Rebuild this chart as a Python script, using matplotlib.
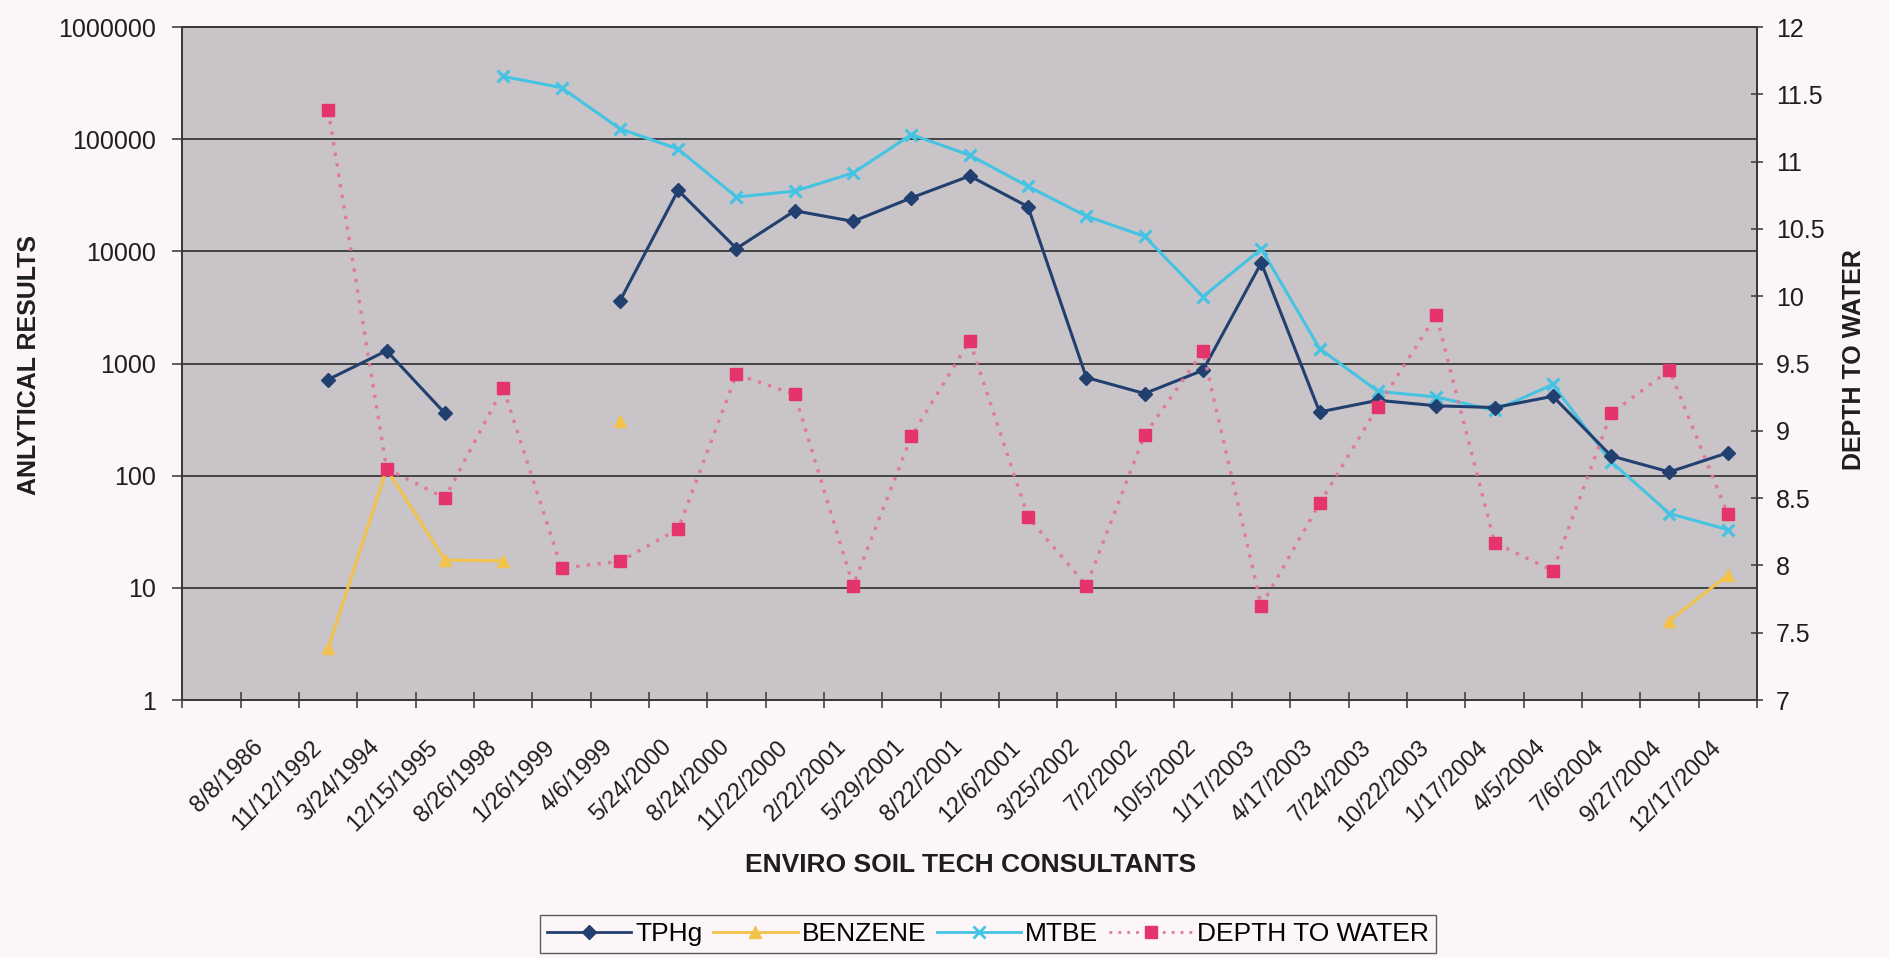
import matplotlib
matplotlib.use("Agg")
import matplotlib.pyplot as plt
import numpy as np
from matplotlib.lines import Line2D
from matplotlib.ticker import FixedLocator, NullLocator
from matplotlib.transforms import ScaledTranslation

nan = np.nan

DATES = [
    "", "8/8/1986", "11/12/1992", "3/24/1994", "12/15/1995", "8/26/1998",
    "1/26/1999", "4/6/1999", "5/24/2000", "8/24/2000", "11/22/2000",
    "2/22/2001", "5/29/2001", "8/22/2001", "12/6/2001", "3/25/2002",
    "7/2/2002", "10/5/2002", "1/17/2003", "4/17/2003", "7/24/2003",
    "10/22/2003", "1/17/2004", "4/5/2004", "7/6/2004", "9/27/2004",
    "12/17/2004",
]

TPHG = [
    nan, nan, 720, 1300, 360, nan, nan, 3600, 35000, 10600, 23000,
    18500, 30000, 47000, 25000, 750, 540, 870, 7900, 370, 470,
    420, 405, 510, 150, 108, 160,
]

BENZENE = [
    nan, nan, 2.9, 115, 17.7, 17.4, nan, 308, nan, nan, nan,
    nan, nan, nan, nan, nan, nan, nan, nan, nan, nan,
    nan, nan, nan, nan, 5.1, 13,
]

MTBE = [
    nan, nan, nan, nan, nan, 363000, 288000, 124000, 81600, 30500, 34400,
    50000, 110000, 72000, 38000, 20600, 13600, 3950, 10500, 1360, 565,
    503, 382, 650, 133, 46, 33,
]

DEPTH = [
    nan, nan, 11.38, 8.72, 8.50, 9.32, 7.98, 8.03, 8.27, 9.42, 9.27,
    7.85, 8.96, 9.67, 8.36, 7.85, 8.97, 9.59, 7.70, 8.46, 9.18,
    9.86, 8.17, 7.96, 9.13, 9.45, 8.38,
]

LEFT_TICKS = [1, 10, 100, 1000, 10000, 100000, 1000000]
RIGHT_TICKS = [7, 7.5, 8, 8.5, 9, 9.5, 10, 10.5, 11, 11.5, 12]

C_TPHG = "#22406f"
C_BENZ = "#f2c24c"
C_MTBE = "#45c3e3"
C_DEPTH = "#e5336b"
C_DEPTH_LINE = "#e07a98"
TXT = "#1e1e1e"
BG = "#fcf6f8"


def main() -> None:
    plt.rcParams["font.family"] = ["Liberation Sans", "DejaVu Sans"]

    fig = plt.figure(figsize=(18.89, 9.58), dpi=100, facecolor=BG)
    ax = fig.add_axes([0.0966, 0.2693, 0.8335, 0.7025])
    ax.set_facecolor("#c8c4c7")
    x = np.arange(len(DATES))

    ax.plot(x, TPHG, color=C_TPHG, lw=2.2, marker="D", ms=7.5, zorder=4)
    ax.plot(x, BENZENE, color=C_BENZ, lw=2.2, marker="^", ms=8, zorder=3)
    ax.plot(x, MTBE, color=C_MTBE, lw=2.2, marker="x", ms=9, mew=2.2, zorder=3)

    ax.set_yscale("log")
    ax.set_ylim(1, 1000000)
    ax.set_xlim(-0.5, len(DATES) - 0.5)
    ax.yaxis.set_major_locator(FixedLocator(LEFT_TICKS))
    ax.yaxis.set_minor_locator(NullLocator())
    ax.set_yticklabels([str(v) for v in LEFT_TICKS])
    ax.grid(axis="y", which="major", color="#3a3a3a", lw=1.3)
    ax.set_axisbelow(True)

    # date labels sit under each category, ticks mark the category edges
    ax.set_xticks(x)
    ax.set_xticklabels(DATES, rotation=45, ha="right", va="top",
                       rotation_mode="anchor", fontsize=17, color=TXT)
    ax.set_xticks(np.arange(len(DATES) + 1) - 0.5, minor=True)
    ax.tick_params(axis="x", which="major", length=0, pad=26)
    ax.tick_params(axis="x", which="minor", direction="inout", length=12, width=1.2, color="#444")
    ax.tick_params(axis="y", direction="out", length=7, width=1.2, color="#444",
                   labelsize=18, labelcolor=TXT, pad=12)

    ax2 = ax.twinx()
    ax2.plot(x, DEPTH, color=C_DEPTH_LINE, lw=2.4, ls=(0, (1, 2.2)), zorder=2)
    ax2.plot(x, DEPTH, ls="none", marker="s", ms=9, color=C_DEPTH, zorder=5)
    ax2.set_ylim(7, 12)
    ax2.set_yticks(RIGHT_TICKS)
    ax2.set_yticklabels([f"{v:g}" for v in RIGHT_TICKS])
    ax2.tick_params(axis="y", direction="inout", length=9, width=1.2, color="#444",
                    labelsize=18, labelcolor=TXT, pad=9)

    # nudge the rotated date labels left (after tick_params, which resets transforms)
    shift = ScaledTranslation(-0.18, 0, fig.dpi_scale_trans)
    for lab in ax.get_xticklabels():
        lab.set_transform(lab.get_transform() + shift)

    for a in (ax, ax2):
        for s in a.spines.values():
            s.set_color("#3a3a3a")
            s.set_linewidth(1.4)

    fig.text(29 / 1889, 1 - 365 / 958, "ANLYTICAL RESULTS", rotation=90, ha="center",
             va="center", fontsize=18, fontweight="bold", color=TXT)
    fig.text(1854 / 1889, 1 - 360 / 958, "DEPTH TO WATER", rotation=90, ha="center",
             va="center", fontsize=18, fontweight="bold", color=TXT)
    fig.text(971 / 1889, 1 - 865 / 958, "ENVIRO SOIL TECH CONSULTANTS", ha="center",
             va="center", fontsize=19, fontweight="bold", color=TXT)

    handles = [
        Line2D([0], [0], color=C_TPHG, lw=2, marker="D", ms=7),
        Line2D([0], [0], color=C_BENZ, lw=2, marker="^", ms=8),
        Line2D([0], [0], color=C_MTBE, lw=2, marker="x", ms=8, mew=2),
        Line2D([0], [0], color=C_DEPTH_LINE, lw=2, ls=(0, (1, 2.2)), marker="s", ms=8,
               mfc=C_DEPTH, mec=C_DEPTH),
    ]
    fig.legend(handles, ["TPHg", "BENZENE", "MTBE", "DEPTH TO WATER"],
               loc="center", bbox_to_anchor=(988 / 1889, 1 - 934 / 958), ncol=4,
               fontsize=19, frameon=True, fancybox=False, edgecolor="#333",
               facecolor=BG, handlelength=3.2, handletextpad=0.15,
               columnspacing=0.4, borderpad=0.25, borderaxespad=0)

    fig.savefig("out.png", dpi=100, facecolor=fig.get_facecolor())
    plt.close(fig)


if __name__ == "__main__":
    main()
